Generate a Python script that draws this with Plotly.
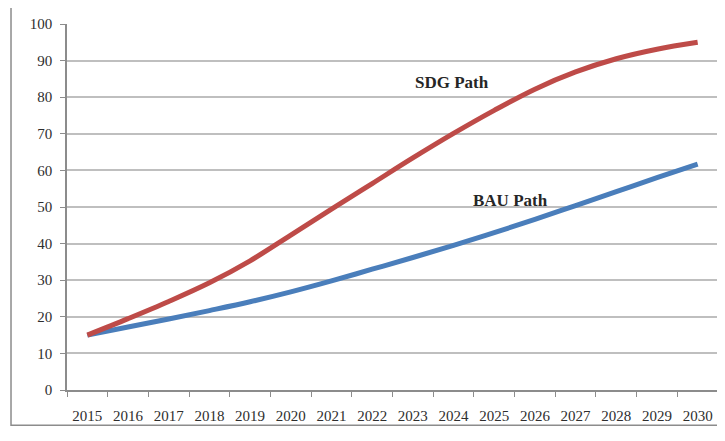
import plotly.graph_objects as go

years = [str(y) for y in range(2015, 2031)]
sdg_path = [15, 19.5, 24.2, 29.3, 35.3, 42.3, 49.4, 56.4, 63.4, 70.1, 76.4, 82.2, 86.9, 90.5, 93.1, 95.0]
bau_path = [15, 17.2, 19.4, 21.7, 24.1, 26.8, 29.8, 33.0, 36.2, 39.5, 43.0, 46.6, 50.4, 54.2, 58.0, 61.7]
y_ticks = list(range(0, 101, 10))

fig = go.Figure()
fig.add_trace(go.Scatter(x=years, y=bau_path, mode="lines", name="BAU Path",
                         line=dict(color="#4A7EBB", width=5, shape="spline")))
fig.add_trace(go.Scatter(x=years, y=sdg_path, mode="lines", name="SDG Path",
                         line=dict(color="#BE4B48", width=5, shape="spline")))

fig.add_annotation(x=8.96, y=83.9, xref="x", yref="y", text="<b>SDG Path</b>",
                   showarrow=False, font=dict(family="Liberation Serif", size=17, color="#262626"))
fig.add_annotation(x=10.41, y=51.9, xref="x", yref="y", text="<b>BAU Path</b>",
                   showarrow=False, font=dict(family="Liberation Serif", size=17, color="#262626"))

# outer chart border
fig.add_shape(type="rect", xref="paper", yref="paper",
              x0=-0.086, x1=1.006, y0=-0.096, y1=1.052,
              line=dict(color="#8C8C8C", width=1.5), fillcolor="rgba(0,0,0,0)", layer="below")

fig.update_layout(
    width=717, height=433,
    margin=dict(l=59, r=7, t=16, b=51),
    paper_bgcolor="white", plot_bgcolor="white",
    showlegend=False,
    font=dict(family="Liberation Serif", size=15, color="#2E2E2E"),
    xaxis=dict(type="category", range=[-0.5, 15.5], tickson="boundaries",
               ticks="outside", ticklen=5, tickcolor="#8C8C8C",
               showline=True, linecolor="#8C8C8C", linewidth=1.5,
               showgrid=False, zeroline=False, ticklabelstandoff=11),
    yaxis=dict(range=[0, 100], tickvals=y_ticks, ticks="outside", ticklen=5,
               tickcolor="#8C8C8C", showline=True, linecolor="#8C8C8C", linewidth=1.5,
               showgrid=True, gridcolor="#BFBFBF", gridwidth=1.5, zeroline=False,
               ticklabelstandoff=5),
)

fig.write_html("out.html")
